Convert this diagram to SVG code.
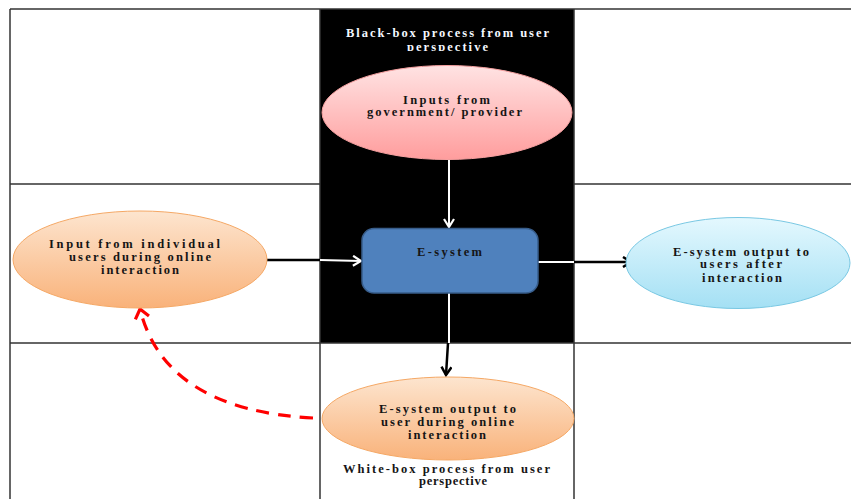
<svg xmlns="http://www.w3.org/2000/svg" width="851" height="499" viewBox="0 0 851 499">
<defs>
<style>
.grid{stroke:#333;stroke-width:1.5;fill:none}
.t{font-family:"Liberation Serif","Times New Roman",serif;font-weight:bold;font-size:12.5px;fill:#151515;text-anchor:middle}
.tw{fill:#f4f8ff}
.wl{stroke:#fff;stroke-width:2;fill:none}
.bl{stroke:#000;stroke-width:2.5;fill:none}
</style>
<linearGradient id="gPink" x1="0" y1="0" x2="0" y2="1">
<stop offset="0" stop-color="#ffe3e3"/><stop offset="1" stop-color="#ff9d9d"/>
</linearGradient>
<linearGradient id="gOrange" x1="0" y1="0" x2="0" y2="1">
<stop offset="0" stop-color="#fde5cf"/><stop offset="1" stop-color="#f9b27a"/>
</linearGradient>
<linearGradient id="gBlue" x1="0" y1="0" x2="0" y2="1">
<stop offset="0" stop-color="#e4f8fe"/><stop offset="1" stop-color="#a4e0f4"/>
</linearGradient>
<marker id="mW" markerWidth="12" markerHeight="12" refX="10" refY="6" orient="auto" markerUnits="userSpaceOnUse">
<path d="M2,1 L10,6 L2,11" fill="none" stroke="#fff" stroke-width="2.2"/>
</marker>
<marker id="mB" markerWidth="12" markerHeight="12" refX="10" refY="6" orient="auto" markerUnits="userSpaceOnUse">
<path d="M2,1 L10,6 L2,11" fill="none" stroke="#000" stroke-width="2.5"/>
</marker>
<marker id="mR" markerWidth="16" markerHeight="16" refX="12" refY="8" orient="auto" markerUnits="userSpaceOnUse">
<path d="M3,1 L12,8 L3,15" fill="none" stroke="#f00" stroke-width="3.2"/>
</marker>
<clipPath id="clipTop"><rect x="320" y="9" width="254" height="42"/></clipPath>
</defs>

<rect x="0" y="0" width="851" height="499" fill="#fff"/>

<g id="grid">
<rect x="320" y="9" width="254" height="334" fill="#000"/>
<line class="grid" x1="10" y1="9" x2="851" y2="9" stroke-width="2"/>
<line class="grid" x1="10" y1="9" x2="10" y2="499" stroke-width="2.5"/>
<line class="grid" x1="10" y1="184" x2="320" y2="184"/>
<line class="grid" x1="574" y1="184" x2="851" y2="184"/>
<line class="grid" x1="10" y1="343" x2="851" y2="343"/>
<line class="grid" x1="320" y1="9" x2="320" y2="499"/>
<line class="grid" x1="574" y1="9" x2="574" y2="499"/>
</g>

<g id="label-blackbox">
<text class="t tw" x="447.5" y="37" textLength="203" lengthAdjust="spacing">Black-box process from user</text>
<text class="t tw" x="447.5" y="51" textLength="81" lengthAdjust="spacing" clip-path="url(#clipTop)">perspective</text>
</g>

<g id="connectors">
<path class="wl" d="M449,160 L449,227" marker-end="url(#mW)"/>
<path class="bl" d="M267,260 L320,260"/>
<path class="wl" d="M320,260 L361,261" marker-end="url(#mW)"/>
<path class="wl" d="M538,262 L574,262"/>
<path class="bl" d="M574,262 L631,262" marker-end="url(#mB)"/>
<path class="wl" d="M449,293 L449,343"/>
<path class="bl" d="M448,343 L446,375" marker-end="url(#mB)"/>
<path d="M313,418 Q165,410 140,309" fill="none" stroke="#f00" stroke-width="3.2" stroke-dasharray="13,9" marker-end="url(#mR)"/>
</g>

<g id="node-inputs-gov">
<ellipse cx="447" cy="112.5" rx="125" ry="47" fill="url(#gPink)" stroke="#f6a0a0" stroke-width="1"/>
<text class="t" x="446.5" y="103.5" textLength="87" lengthAdjust="spacing">Inputs from</text>
<text class="t" x="444.5" y="116" textLength="155" lengthAdjust="spacing">government/ provider</text>
</g>

<g id="node-esystem">
<rect x="362" y="228.5" width="176" height="64.5" rx="12" fill="#4f81bd" stroke="#385d8a" stroke-width="1.5"/>
<text class="t" x="449.5" y="255.5" textLength="65" lengthAdjust="spacing" fill="#1b2536">E-system</text>
</g>

<g id="node-input-users">
<ellipse cx="140" cy="259.5" rx="127" ry="48.5" fill="url(#gOrange)" stroke="#f5a865" stroke-width="1"/>
<text class="t" x="134.5" y="247.5" textLength="171" lengthAdjust="spacing">Input from individual</text>
<text class="t" x="140" y="260.5" textLength="142" lengthAdjust="spacing">users during online</text>
<text class="t" x="140" y="273.5" textLength="78" lengthAdjust="spacing">interaction</text>
</g>

<g id="node-output-after">
<ellipse cx="738" cy="263" rx="112" ry="45.5" fill="url(#gBlue)" stroke="#79c8e3" stroke-width="1"/>
<text class="t" x="741" y="255.5" textLength="136" lengthAdjust="spacing">E-system output to</text>
<text class="t" x="741" y="268" textLength="82" lengthAdjust="spacing">users after</text>
<text class="t" x="742" y="281.5" textLength="80" lengthAdjust="spacing">interaction</text>
</g>

<g id="node-output-during">
<ellipse cx="448" cy="418.5" rx="126" ry="41.5" fill="url(#gOrange)" stroke="#f5a865" stroke-width="1"/>
<text class="t" x="447.5" y="413" textLength="137" lengthAdjust="spacing">E-system output to</text>
<text class="t" x="447.5" y="425.5" textLength="133" lengthAdjust="spacing">user during online</text>
<text class="t" x="447" y="438.5" textLength="78" lengthAdjust="spacing">interaction</text>
</g>

<g id="label-whitebox">
<text class="t" x="446.5" y="472.5" textLength="207" lengthAdjust="spacing">White-box process from user</text>
<text class="t" x="453" y="485" textLength="68" lengthAdjust="spacing">perspective</text>
</g>
</svg>
